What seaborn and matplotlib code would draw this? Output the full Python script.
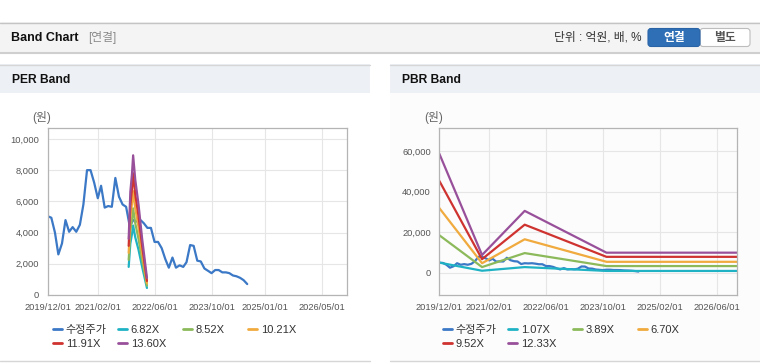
import numpy as np
import pandas as pd
import matplotlib
matplotlib.use('Agg')
import matplotlib.pyplot as plt
from matplotlib.patches import Rectangle, FancyBboxPatch
from matplotlib.lines import Line2D
from matplotlib.ticker import FuncFormatter
import seaborn as sns

sns.set_style('white')
plt.rcParams['font.family'] = ['Liberation Sans', 'Noto Sans CJK KR', 'DejaVu Sans']

# ---------------- data ----------------
# adjusted price (monthly)
price_dates = pd.date_range('2019-12-01', '2024-08-01', freq='MS')
price = [5050, 4950, 4000, 2600, 3300, 4800, 4050, 4350, 4050, 4500, 5800, 8000,
         8000, 7200, 6200, 7000, 5600, 5700, 5650, 7500, 6300, 5800, 5650, 4400,
         4800, 4700, 4800, 4600, 4300, 4300, 3400, 3400, 3000, 2300, 1750, 2400,
         1750, 1900, 1800, 2100, 3200, 3150, 2200, 2150, 1700, 1550, 1400, 1600,
         1600, 1450, 1450, 1400, 1250, 1200, 1100, 950, 700]

# PER band
per_dates = pd.to_datetime(['2021-10-23', '2021-11-06', '2021-11-20', '2021-11-30',
                            '2021-12-18', '2022-01-15', '2022-02-15', '2022-03-28'])
per_labels = ['6.82X', '8.52X', '10.21X', '11.91X', '13.60X']
per_682 = [1800, 3300, 3900, 4450, 3700, 2900, 1800, 450]
per_852 = [2250, 4100, 4850, 5550, 4600, 3600, 2250, 600]
per_1021 = [2700, 4950, 5850, 6650, 5550, 4350, 2700, 750]
per_1191 = [3150, 5750, 6800, 7800, 6450, 5050, 3150, 900]
per_1360 = [3600, 6600, 7750, 8950, 7400, 5800, 3600, 1100]

# PBR band
pbr_dates = pd.to_datetime(['2019-12-01', '2020-12-01', '2021-12-01', '2023-11-01', '2026-11-22'])
pbr_labels = ['1.07X', '3.89X', '6.70X', '9.52X', '12.33X']
pbr_107 = [5100, 1100, 2900, 1000, 1000]
pbr_389 = [18600, 2900, 9800, 3400, 3400]
pbr_670 = [32000, 4800, 16600, 5500, 5500]
pbr_952 = [45400, 6800, 23800, 7950, 7950]
pbr_1233 = [58800, 8850, 30600, 10000, 10000]

per_ticks = ['2019/12/01', '2021/02/01', '2022/06/01', '2023/10/01', '2025/01/01', '2026/05/01']
pbr_ticks = ['2019/12/01', '2021/02/01', '2022/06/01', '2023/10/01', '2025/02/01', '2026/06/01']

colors = ['#3b78c6', '#1fb2c4', '#8cba5b', '#f0aa3e', '#cf3330', '#98509a']
price_label = '수정주가'


def long_df(dates_list, values_list, names):
    parts = []
    for d, v, n in zip(dates_list, values_list, names):
        parts.append(pd.DataFrame({'date': d, 'value': v, 'series': n}))
    return pd.concat(parts, ignore_index=True)


per_df = long_df([price_dates] + [per_dates] * 5,
                 [price, per_682, per_852, per_1021, per_1191, per_1360],
                 [price_label] + per_labels)
pbr_df = long_df([price_dates] + [pbr_dates] * 5,
                 [price, pbr_107, pbr_389, pbr_670, pbr_952, pbr_1233],
                 [price_label] + pbr_labels)

# ---------------- figure ----------------
W, H = 760, 364
fig = plt.figure(figsize=(W / 100, H / 100), dpi=100)

# background layer in pixel coords
bg = fig.add_axes([0, 0, 1, 1], zorder=0)
bg.set_xlim(0, W)
bg.set_ylim(H, 0)
bg.axis('off')

# top header bar
bg.add_patch(Rectangle((0, 22), W, 31, facecolor='#f4f4f4', edgecolor='none'))
bg.plot([0, W], [22.5, 22.5], color='#c4c4c4', lw=1)
bg.plot([0, W], [53, 53], color='#cfcfcf', lw=1.5)
bg.text(11, 38, 'Band Chart', fontsize=9, fontweight='bold', color='#111111', va='center')
bg.text(88, 38, '[연결]', fontsize=8.5, color='#8a8a8a', va='center')
bg.text(642, 38, '단위 : 억원, 배, %', fontsize=8.5, color='#333333', va='center', ha='right')
bg.add_patch(FancyBboxPatch((700, 28.5), 50, 18, boxstyle='round,pad=0,rounding_size=3',
                            facecolor='white', edgecolor='#bdbdbd', lw=0.8))
bg.add_patch(FancyBboxPatch((648, 28.5), 52, 18, boxstyle='round,pad=0,rounding_size=3',
                            facecolor='#2f6fb6', edgecolor='#2a64a6', lw=0.8))
bg.text(674, 38, '연결', fontsize=8.5, fontweight='bold', color='white', va='center', ha='center')
bg.text(725, 38, '별도', fontsize=8.5, fontweight='bold', color='#555555', va='center', ha='center')

# panels
for x0, title, body in [(0, 'PER Band', 'white'), (390, 'PBR Band', '#fcfcfc')]:
    bg.add_patch(Rectangle((x0, 93), 370, 268, facecolor=body, edgecolor='none'))
    bg.add_patch(Rectangle((x0, 64), 370, 29, facecolor='#edf1f6', edgecolor='none'))
    bg.plot([x0, x0 + 370], [64.5, 64.5], color='#d6d6d6', lw=1)
    bg.plot([x0, x0 + 370], [361, 361], color='#d6d6d6', lw=1)
    bg.text(x0 + 12, 80, title, fontsize=8.7, fontweight='bold', color='#111111', va='center')


def draw_panel(rect, df, labels, ylim, yticks, tick_labels, xlim, facecolor, unit_x, leg_x):
    ax = fig.add_axes(rect, zorder=1)
    ax.set_facecolor(facecolor)
    sns.lineplot(data=df, x='date', y='value', hue='series', hue_order=[price_label] + labels,
                 palette=colors, linewidth=1.6, legend=False, estimator=None, ax=ax)
    ax.set_xlim(pd.Timestamp(xlim[0]), pd.Timestamp(xlim[1]))
    ax.set_ylim(*ylim)
    ax.set_yticks(yticks)
    ax.yaxis.set_major_formatter(FuncFormatter(lambda v, p: f'{int(v):,}'))
    ax.set_xticks(pd.to_datetime(tick_labels, format='%Y/%m/%d'))
    ax.set_xticklabels(tick_labels)
    ax.set_xlabel('')
    ax.set_ylabel('')
    ax.grid(True, color='#e6e6e6', lw=0.8)
    for s in ax.spines.values():
        s.set_color('#b4b4b4')
        s.set_linewidth(0.9)
    ax.tick_params(axis='both', labelsize=6.7, colors='#b4b4b4', labelcolor='#555555',
                   length=3, width=0.8, pad=3)
    bg.text(unit_x, 118, '(원)', fontsize=8.5, color='#666666', ha='center', va='center')

    # legend items laid out in fixed-width columns
    names = [price_label] + labels
    for i, (n, c) in enumerate(zip(names, colors)):
        lx = leg_x + (i % 4) * 65
        ly = 330 + (i // 4) * 14
        fig.legend(handles=[Line2D([], [], color=c, lw=2)], labels=[n],
                   loc='center left', bbox_to_anchor=(lx / W, 1 - ly / H),
                   frameon=False, fontsize=8, handlelength=0.85, handletextpad=0.3,
                   borderpad=0, borderaxespad=0, labelcolor='#333333')
    return ax


draw_panel([47.7 / W, 1 - 295 / H, 299.6 / W, 167 / H], per_df, per_labels,
           (0, 10700), [0, 2000, 4000, 6000, 8000, 10000], per_ticks,
           ('2019-12-01', '2026-12-04'), 'white', 42, 53)
draw_panel([439.3 / W, 1 - 295 / H, 298 / W, 167 / H], pbr_df, pbr_labels,
           (-10860, 71450), [0, 20000, 40000, 60000], pbr_ticks,
           ('2019-12-01', '2026-11-25'), '#fcfcfc', 434, 443)

fig.savefig('out.png', dpi=100)
